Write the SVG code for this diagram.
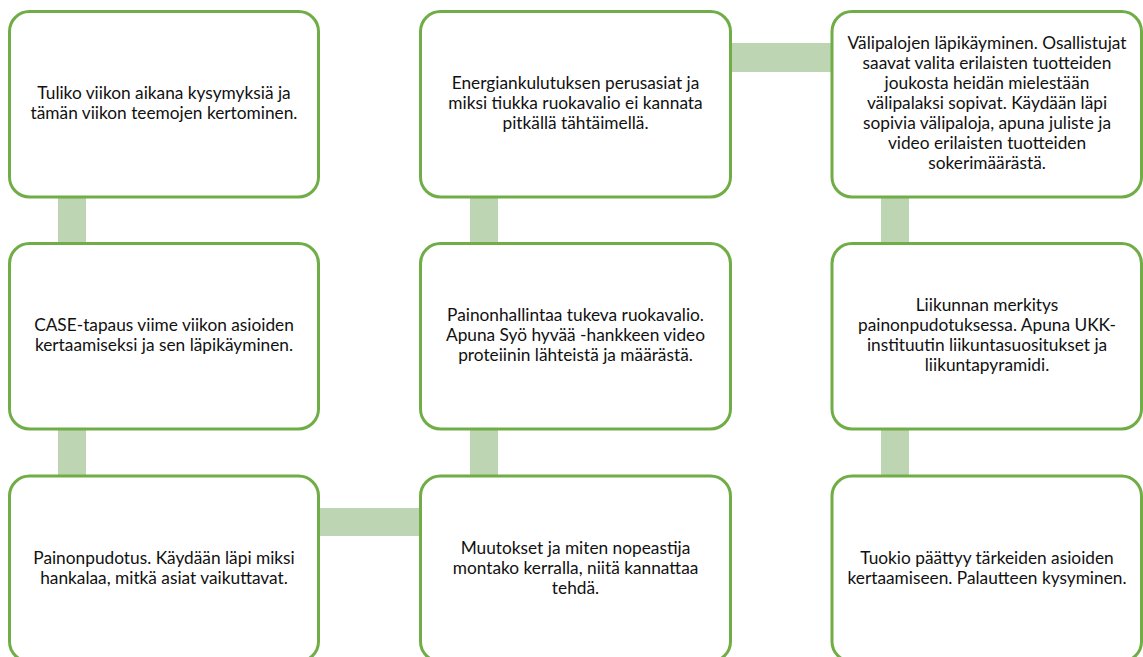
<svg xmlns="http://www.w3.org/2000/svg" width="1143" height="657" viewBox="0 0 1143 657">
<style>
.box{fill:#ffffff;stroke:#70AD47;stroke-width:3}
.con{fill:#BDD5B2}
text{font-family:Lato,"Liberation Sans",sans-serif;font-size:17.3px;fill:#111;text-anchor:middle}
</style>
<rect width="1143" height="657" fill="#ffffff"/>
<g id="connectors">
<rect class="con" x="58" y="190" width="28" height="60"/>
<rect class="con" x="58" y="422" width="28" height="60"/>
<rect class="con" x="312" y="508" width="115" height="28"/>
<rect class="con" x="470" y="422" width="28" height="60"/>
<rect class="con" x="470" y="190" width="28" height="60"/>
<rect class="con" x="724" y="43" width="115" height="29"/>
<rect class="con" x="881" y="190" width="28" height="60"/>
<rect class="con" x="881" y="422" width="28" height="60"/>
</g>
<g id="n1">
<rect class="box" x="9.5" y="11.5" width="309" height="185.5" rx="20"/>
<text x="164" y="99">Tuliko viikon aikana kysymyksiä ja</text>
<text x="164" y="119">tämän viikon teemojen kertominen.</text>
</g>
<g id="n2">
<rect class="box" x="9.5" y="243.5" width="309" height="185.5" rx="20"/>
<text x="164" y="331">CASE-tapaus viime viikon asioiden</text>
<text x="164" y="351">kertaamiseksi ja sen läpikäyminen.</text>
</g>
<g id="n3">
<rect class="box" x="9.5" y="476" width="309" height="185.5" rx="20"/>
<text x="164" y="564">Painonpudotus. Käydään läpi miksi</text>
<text x="164" y="584">hankalaa, mitkä asiat vaikuttavat.</text>
</g>
<g id="n4">
<rect class="box" x="420.5" y="476" width="310" height="185.5" rx="20"/>
<text x="575.5" y="554">Muutokset ja miten nopeastija</text>
<text x="575.5" y="574">montako kerralla, niitä kannattaa</text>
<text x="575.5" y="594">tehdä.</text>
</g>
<g id="n5">
<rect class="box" x="420.5" y="243.5" width="310" height="185.5" rx="20"/>
<text x="575.5" y="321">Painonhallintaa tukeva ruokavalio.</text>
<text x="575.5" y="341">Apuna Syö hyvää -hankkeen video</text>
<text x="575.5" y="361">proteiinin lähteistä ja määrästä.</text>
</g>
<g id="n6">
<rect class="box" x="420.5" y="11.5" width="310" height="185.5" rx="20"/>
<text x="575.5" y="89">Energiankulutuksen perusasiat ja</text>
<text x="575.5" y="109">miksi tiukka ruokavalio ei kannata</text>
<text x="575.5" y="129">pitkällä tähtäimellä.</text>
</g>
<g id="n7">
<rect class="box" x="832" y="11.5" width="309.5" height="185.5" rx="20"/>
<text x="987" y="49">Välipalojen läpikäyminen. Osallistujat</text>
<text x="987" y="69">saavat valita erilaisten tuotteiden</text>
<text x="987" y="89">joukosta heidän mielestään</text>
<text x="987" y="109">välipalaksi sopivat. Käydään läpi</text>
<text x="987" y="129">sopivia välipaloja, apuna juliste ja</text>
<text x="987" y="149">video erilaisten tuotteiden</text>
<text x="987" y="169">sokerimäärästä.</text>
</g>
<g id="n8">
<rect class="box" x="832" y="243.5" width="309.5" height="185.5" rx="20"/>
<text x="987" y="311">Liikunnan merkitys</text>
<text x="987" y="331">painonpudotuksessa. Apuna UKK-</text>
<text x="987" y="351">instituutin liikuntasuositukset ja</text>
<text x="987" y="371">liikuntapyramidi.</text>
</g>
<g id="n9">
<rect class="box" x="832" y="476" width="309.5" height="185.5" rx="20"/>
<text x="987" y="564">Tuokio päättyy tärkeiden asioiden</text>
<text x="987" y="584">kertaamiseen. Palautteen kysyminen.</text>
</g>
</svg>
